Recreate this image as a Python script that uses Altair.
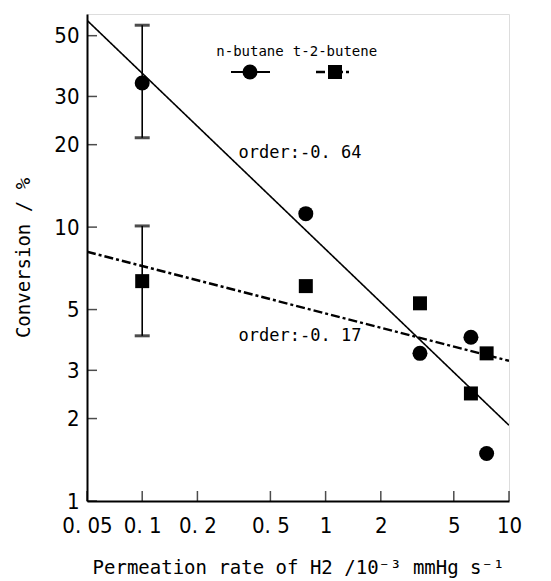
import altair as alt
import pandas as pd

# ---- data ----
series = ["n-butane", "t-2-butene"]
x_rate = [0.1, 0.78, 3.27, 6.2, 7.55]
y_butane = [33.6, 11.2, 3.46, 3.96, 1.49]
y_butene = [6.35, 6.09, 5.27, 2.47, 3.46]
err_x = [0.1, 0.1]
err_lo = [21.2, 4.01]
err_hi = [54.6, 10.1]
fit_x = [0.05, 10]
fit_butane = [56.9, 1.89]
fit_butene = [8.13, 3.25]
order_labels = ["order:-0. 64", "order:-0. 17"]
x_ticks = [0.05, 0.1, 0.2, 0.5, 1, 2, 5, 10]
x_tick_labels = ["0. 05", "0. 1", "0. 2", "0. 5", "1", "2", "5", "10"]
y_ticks = [1, 2, 3, 5, 10, 20, 30, 50]
y_tick_labels = ["1", "2", "3", "5", "10", "20", "30", "50"]

W, H = 422, 487
NUM_FONT = "DejaVu Sans Condensed, Liberation Sans Narrow, sans-serif"
MONO = "DejaVu Sans Mono, Liberation Mono, monospace"

def label_expr(vals, labs):
    e = "''"
    for v, l in zip(reversed(vals), reversed(labs)):
        e = f"(abs(datum.value - {v}) < 1e-9 ? '{l}' : {e})"
    return e

pts = pd.DataFrame({
    "x": x_rate + x_rate,
    "y": y_butane + y_butene,
    "s": [series[0]] * len(x_rate) + [series[1]] * len(x_rate),
})
fits = pd.DataFrame({
    "x": fit_x + fit_x,
    "y": fit_butane + fit_butene,
    "s": [series[0]] * 2 + [series[1]] * 2,
})
errs = pd.DataFrame({"x": err_x, "lo": err_lo, "hi": err_hi})
xt = pd.DataFrame({"v": x_ticks})
yt = pd.DataFrame({"v": y_ticks})

xs = alt.Scale(type="log", domain=[0.05, 10], nice=False)
ys = alt.Scale(type="log", domain=[1, 60], nice=False)

xaxis = alt.Axis(values=x_ticks, labelExpr=label_expr(x_ticks, x_tick_labels),
                 tickSize=0, grid=False, domainColor="black", domainWidth=2,
                 labelFont=NUM_FONT, labelFontSize=22, labelColor="black",
                 labelPadding=14, labelFlush=False, labelOverlap=False, labelBound=False,
                 title="Permeation rate of H2 /10⁻³ mmHg s⁻¹", titleFont=MONO,
                 titleFontSize=19, titleFontWeight="normal", titleColor="black",
                 titlePadding=22)
yaxis = alt.Axis(values=y_ticks, labelExpr=label_expr(y_ticks, y_tick_labels),
                 tickSize=0, grid=False, domainColor="black", domainWidth=2,
                 labelFont=NUM_FONT, labelFontSize=22, labelColor="black",
                 labelPadding=8, labelFlush=False, labelOverlap=False, labelBound=False,
                 title="Conversion / %", titleFont=MONO, titleFontSize=19,
                 titleFontWeight="normal", titleColor="black", titlePadding=20)

base_x = alt.X("x:Q", scale=xs, axis=xaxis)
base_y = alt.Y("y:Q", scale=ys, axis=yaxis)

fit_lines = alt.Chart(fits).mark_line(color="black", clip=True).encode(
    x=base_x, y=base_y,
    strokeDash=alt.StrokeDash("s:N", scale=alt.Scale(domain=series, range=[[1, 0], [9, 3, 3, 3]]), legend=None),
    strokeWidth=alt.StrokeWidth("s:N", scale=alt.Scale(domain=series, range=[1.6, 2.4]), legend=None),
    detail="s:N",
)

err_rule = alt.Chart(errs).mark_rule(color="black", strokeWidth=1.6).encode(
    x=alt.X("x:Q", scale=xs), y=alt.Y("lo:Q", scale=ys), y2="hi:Q")
cap_lo = alt.Chart(errs).mark_tick(color="black", orient="horizontal", size=15, thickness=3).encode(
    x=alt.X("x:Q", scale=xs), y=alt.Y("lo:Q", scale=ys))
cap_hi = alt.Chart(errs).mark_tick(color="black", orient="horizontal", size=15, thickness=3).encode(
    x=alt.X("x:Q", scale=xs), y=alt.Y("hi:Q", scale=ys))

points = alt.Chart(pts).mark_point(filled=True, color="black", opacity=1, strokeWidth=0).encode(
    x=alt.X("x:Q", scale=xs), y=alt.Y("y:Q", scale=ys),
    shape=alt.Shape("s:N", scale=alt.Scale(domain=series, range=["circle", "square"]), legend=None),
    size=alt.Size("s:N", scale=alt.Scale(domain=series, range=[225, 196]), legend=None),
)

xtick_marks = alt.Chart(xt).mark_tick(color="black", orient="vertical", size=10, thickness=1.5).encode(
    x=alt.X("v:Q", scale=xs), y=alt.value(H - 5))
ytick_marks = alt.Chart(yt).mark_tick(color="black", orient="horizontal", size=10, thickness=1.5).encode(
    x=alt.value(5), y=alt.Y("v:Q", scale=ys))

ann1 = alt.Chart(pd.DataFrame({"t": [order_labels[0]]})).mark_text(
    font=MONO, fontSize=17, color="black", align="center", baseline="middle").encode(
    text="t:N", x=alt.value(213), y=alt.value(139))
ann2 = alt.Chart(pd.DataFrame({"t": [order_labels[1]]})).mark_text(
    font=MONO, fontSize=17, color="black", align="center", baseline="middle").encode(
    text="t:N", x=alt.value(213), y=alt.value(322))

leg_txt1 = alt.Chart(pd.DataFrame({"t": [series[0]]})).mark_text(
    font=MONO, fontSize=14, color="black", align="center", baseline="middle").encode(
    text="t:N", x=alt.value(163), y=alt.value(38))
leg_txt2 = alt.Chart(pd.DataFrame({"t": [series[1]]})).mark_text(
    font=MONO, fontSize=14, color="black", align="center", baseline="middle").encode(
    text="t:N", x=alt.value(248), y=alt.value(38))
leg_line1 = alt.Chart(pd.DataFrame({"s": [series[0]]})).mark_rule(color="black", strokeWidth=2).encode(
    x=alt.value(144), x2=alt.value(183), y=alt.value(58))
leg_line2 = alt.Chart(pd.DataFrame({"s": [series[1]]})).mark_rule(
    color="black", strokeWidth=2.4, strokeDash=[9, 3, 3, 3]).encode(
    x=alt.value(229), x2=alt.value(265), y=alt.value(58))
leg_sym1 = alt.Chart(pd.DataFrame({"s": [series[0]]})).mark_point(
    filled=True, color="black", opacity=1, shape="circle", size=225, strokeWidth=0).encode(
    x=alt.value(163), y=alt.value(58))
leg_sym2 = alt.Chart(pd.DataFrame({"s": [series[1]]})).mark_point(
    filled=True, color="black", opacity=1, shape="square", size=196, strokeWidth=0).encode(
    x=alt.value(248), y=alt.value(58))

chart = alt.layer(
    fit_lines, err_rule, cap_lo, cap_hi, points, xtick_marks, ytick_marks,
    ann1, ann2, leg_line1, leg_line2, leg_sym1, leg_sym2, leg_txt1, leg_txt2,
).properties(
    width=W, height=H,
    autosize=alt.AutoSizeParams(type="none"),
    padding={"left": 79, "top": 6, "right": 20, "bottom": 80},
).configure_view(stroke="black", strokeWidth=2).configure(background="white")

chart.save("out.html", embed_options={"renderer": "svg", "actions": False})
